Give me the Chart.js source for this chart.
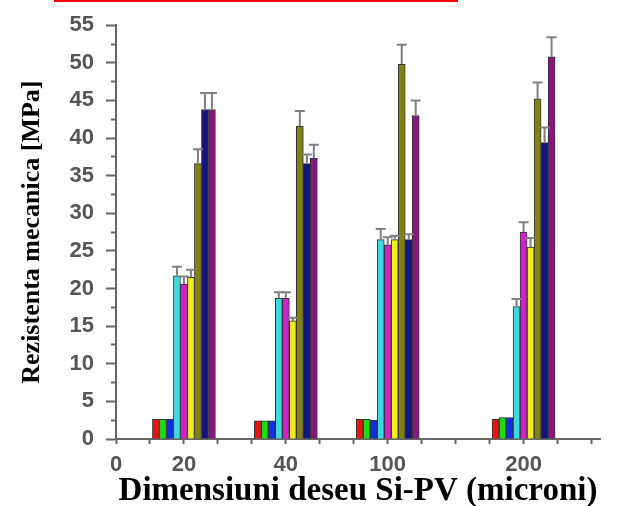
<!DOCTYPE html>
<html>
  <head>
    <script src="https://cdn.jsdelivr.net/npm/chart.js@4.4.1/dist/chart.umd.min.js"></script>
    <style>
      body { margin: 0; background: #fff; }
      #wrap { width: 628px; height: 506px; position: relative; }
    </style>
  </head>

  <body>
    <div id="wrap">
      <canvas id="canvas"></canvas>
    </div>
    <script>
      // particle size groups (micron) and where they sit on the x axis
      const categories = ['20', '40', '100', '200'];
      const categoryPos = [2, 5, 8, 12];
      const tickPositions = [0, 2, 5, 8, 12];
      const tickLabels = ['0', '20', '40', '100', '200'];

      // mechanical strength [MPa], one array per series
      const red = [2.6, 2.4, 2.6, 2.6];
      const green = [2.6, 2.4, 2.6, 2.85];
      const blue = [2.6, 2.4, 2.5, 2.85];
      const cyan = [21.7, 18.7, 26.5, 17.6];
      const magenta = [20.6, 18.7, 25.8, 27.5];
      const yellow = [21.5, 15.7, 26.5, 25.5];
      const olive = [36.6, 41.6, 49.8, 45.2];
      const navy = [43.8, 36.6, 26.5, 39.4];
      const purple = [43.8, 37.3, 43.0, 50.8];

      // error bars (upper half)
      const errRed = [0, 0, 0, 0];
      const errGreen = [0, 0, 0, 0];
      const errBlue = [0, 0, 0, 0];
      const errCyan = [1.2, 0.8, 1.4, 1.0];
      const errMagenta = [1.0, 0.8, 1.0, 1.3];
      const errYellow = [1.0, 0.4, 0.5, 1.2];
      const errOlive = [1.9, 2.0, 2.6, 2.2];
      const errNavy = [2.2, 1.2, 0.7, 2.0];
      const errPurple = [2.2, 1.8, 2.0, 2.6];

      const series = [
        { label: 'A', values: red, err: errRed, color: '#e8140c' },
        { label: 'B', values: green, err: errGreen, color: '#18dc18' },
        { label: 'C', values: blue, err: errBlue, color: '#1030e8' },
        { label: 'D', values: cyan, err: errCyan, color: '#40d8e0' },
        { label: 'E', values: magenta, err: errMagenta, color: '#d020c8' },
        { label: 'F', values: yellow, err: errYellow, color: '#f0ec20' },
        { label: 'G', values: olive, err: errOlive, color: '#828214' },
        { label: 'H', values: navy, err: errNavy, color: '#14147e' },
        { label: 'I', values: purple, err: errPurple, color: '#8a1480' },
      ];

      const errorBars = {
        id: 'errorBars',
        afterDatasetsDraw(chart) {
          const ctx = chart.ctx;
          const y = chart.scales.y;
          ctx.save();
          ctx.strokeStyle = '#808080';
          ctx.lineWidth = 2;
          chart.data.datasets.forEach((ds, i) => {
            const meta = chart.getDatasetMeta(i);
            meta.data.forEach((bar, j) => {
              const e = ds.err[j];
              if (!e) return;
              const top = y.getPixelForValue(ds.data[j].y + e);
              ctx.beginPath();
              ctx.moveTo(bar.x, bar.y);
              ctx.lineTo(bar.x, top);
              ctx.moveTo(bar.x - 5, top);
              ctx.lineTo(bar.x + 5, top);
              ctx.stroke();
            });
          });
          ctx.restore();
        },
      };

      // red underline left over at the top edge of the figure
      const topLine = {
        id: 'topLine',
        afterDraw(chart) {
          const ctx = chart.ctx;
          ctx.save();
          ctx.fillStyle = '#ff0000';
          ctx.fillRect(54, 0, 404, 2);
          ctx.restore();
        },
      };

      new Chart(document.getElementById('canvas'), {
        type: 'bar',
        data: {
          datasets: series.map((s) => ({
            label: s.label,
            data: s.values.map((v, i) => ({ x: categoryPos[i], y: v })),
            err: s.err,
            backgroundColor: s.color,
            borderColor: '#333',
            borderWidth: 1,
            barThickness: 7,
          })),
        },
        options: {
          responsive: true,
          maintainAspectRatio: false,
          animation: false,
          layout: { padding: { top: 15, right: 28, bottom: 0, left: 0 } },
          plugins: { legend: { display: false }, tooltip: { enabled: false } },
          scales: {
            x: {
              type: 'linear',
              min: 0,
              max: 14.25,
              offset: false,
              afterBuildTicks: (axis) => {
                axis.ticks = Array.from({ length: 15 }, (_, i) => ({ value: i }));
              },
              afterFit: (s) => { s.height = 67; },
              border: { color: '#666', width: 2 },
              grid: { drawOnChartArea: false, offset: false, tickLength: 5, color: '#666', tickWidth: 2 },
              ticks: {
                autoSkip: false,
                maxRotation: 0,
                padding: 8,
                color: '#555',
                font: { family: 'Liberation Sans', size: 22, weight: 'bold' },
                callback: (v) => {
                  const k = tickPositions.indexOf(v);
                  return k >= 0 ? tickLabels[k] : '';
                },
              },
              title: {
                display: true,
                text: 'Dimensiuni deseu Si-PV (microni)',
                color: '#000',
                padding: { top: 0, bottom: 0 },
                font: { family: 'Liberation Serif', size: 33, weight: 'bold', lineHeight: 0.9 },
              },
            },
            y: {
              min: 0,
              max: 55,
              afterFit: (s) => { s.width = 116; },
              border: { color: '#666', width: 2 },
              grid: {
                drawOnChartArea: false,
                tickLength: 10,
                color: '#666',
                tickWidth: 2,
                tickBorderDash: (c) => (c.tick && c.tick.value % 5 !== 0 ? [5, 5] : []),
                tickBorderDashOffset: (c) => (c.tick && c.tick.value % 5 !== 0 ? 5 : 0),
              },
              ticks: {
                stepSize: 2.5,
                autoSkip: false,
                padding: 12,
                color: '#555',
                font: { family: 'Liberation Sans', size: 22, weight: 'bold' },
                callback: (v) => (v % 5 === 0 ? String(v) : ''),
              },
              title: {
                display: true,
                text: 'Rezistenta mecanica [MPa]',
                color: '#000',
                padding: { top: 17, bottom: 0 },
                font: { family: 'Liberation Serif', size: 26, weight: 'bold' },
              },
            },
          },
        },
        plugins: [errorBars, topLine],
      });
    </script>
  </body>
</html>
